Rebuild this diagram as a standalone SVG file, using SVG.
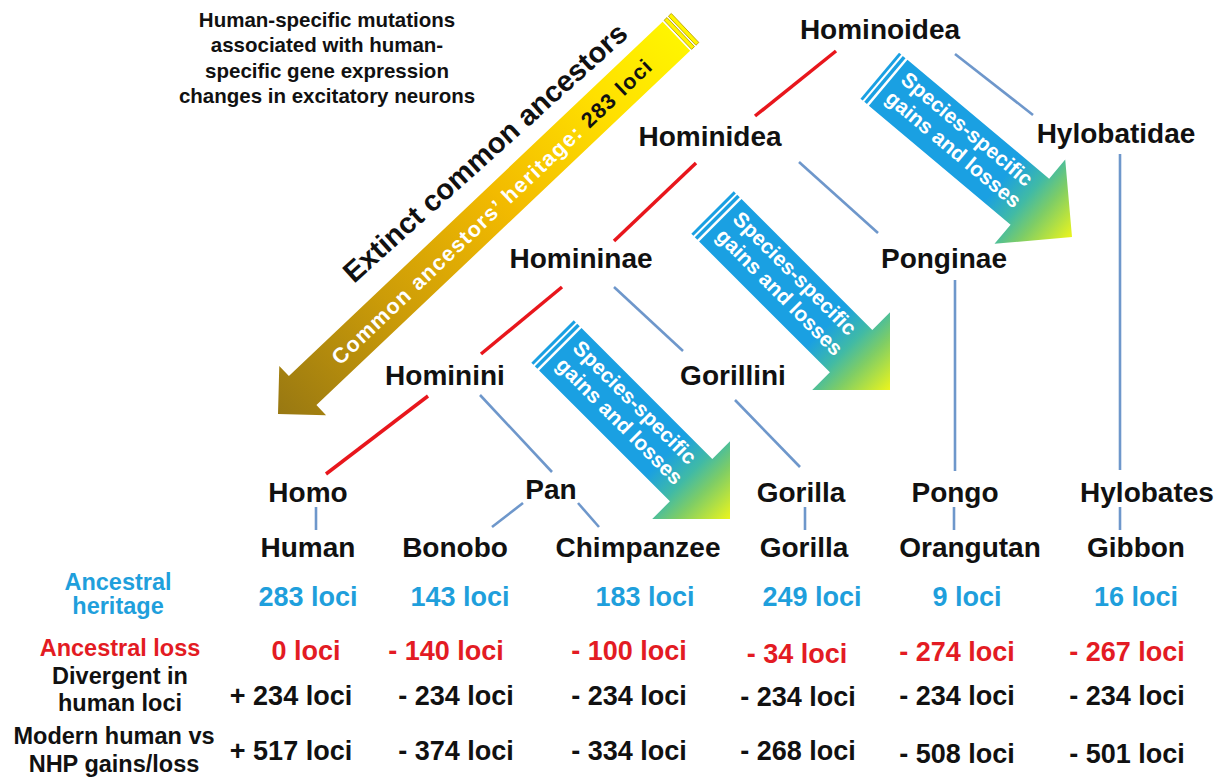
<svg xmlns="http://www.w3.org/2000/svg" width="1222" height="781" viewBox="0 0 1222 781">
<style>
  text { font-family: "Liberation Sans", Arial, sans-serif; font-weight: bold; }
  .node { font-size: 28px; fill: #111; text-anchor: middle; }
  .lab { font-size: 23.5px; text-anchor: middle; }
  .val { font-size: 27px; text-anchor: middle; }
  .blue { fill: #1f9fdc; }
  .red { fill: #e31b23; }
  .blk { fill: #111; }
  .rl { stroke: #e8161c; stroke-width: 3.5; fill: none; }
  .bl { stroke: #6e97cb; stroke-width: 2.6; fill: none; }
  .at { font-size: 21px; fill: #fff; }
</style>
<defs>
  <linearGradient id="gBlue" gradientUnits="userSpaceOnUse" x1="-251" y1="0" x2="0" y2="0">
    <stop offset="0" stop-color="#1aa0e2"/>
    <stop offset="0.64" stop-color="#1aa0e2"/>
    <stop offset="0.76" stop-color="#40baa6"/>
    <stop offset="0.85" stop-color="#7ecd66"/>
    <stop offset="1" stop-color="#ecf51c"/>
  </linearGradient>
  <linearGradient id="gGold" gradientUnits="userSpaceOnUse" x1="-561" y1="0" x2="0" y2="0">
    <stop offset="0" stop-color="#fff700"/>
    <stop offset="0.2" stop-color="#ffe000"/>
    <stop offset="0.45" stop-color="#f2ba00"/>
    <stop offset="0.72" stop-color="#cc9c08"/>
    <stop offset="1" stop-color="#987812"/>
  </linearGradient>
  <g id="blueArrow">
    <rect x="-251" y="-30" width="3" height="60" fill="url(#gBlue)"/>
    <rect x="-246" y="-30" width="3.5" height="60" fill="url(#gBlue)"/>
    <polygon points="-240,-30 -55,-30 -55,-55 0,0 -55,55 -55,30 -240,30" fill="url(#gBlue)"/>
  </g>
</defs>
<rect width="1222" height="781" fill="#fff"/>

<g id="caption">
  <text class="blk" font-size="20.5" text-anchor="middle" x="327" y="27">Human-specific mutations</text>
  <text class="blk" font-size="20.5" text-anchor="middle" x="327" y="52">associated with human-</text>
  <text class="blk" font-size="20.5" text-anchor="middle" x="327" y="78">specific gene expression</text>
  <text class="blk" font-size="20.5" text-anchor="middle" x="327" y="103">changes in excitatory neurons</text>
</g>

<g id="ancestor-arrow">
  <g transform="translate(278,414) rotate(136.52)">
    <rect x="-561" y="-20" width="4" height="40" fill="url(#gGold)" stroke="#b59a00" stroke-width="0.8"/>
    <rect x="-555" y="-20" width="4" height="40" fill="url(#gGold)" stroke="#b59a00" stroke-width="0.8"/>
    <polygon points="-549,-20 -34,-20 -34,-34 0,0 -34,34 -34,20 -549,20" fill="url(#gGold)"/>
  </g>
  <text font-size="21.5" fill="#fff" transform="translate(340,366) rotate(-43.5)" textLength="432">Common ancestors’ heritage: <tspan fill="#111">283 loci</tspan></text>
  <text font-size="29" fill="#111" transform="translate(354,284) rotate(-42)">Extinct common ancestors</text>
</g>

<g id="gain-arrow-1" transform="translate(1072,237) rotate(40)">
  <use href="#blueArrow"/>
  <text class="at" x="-232" y="-8">Species-specific</text>
  <text class="at" x="-232" y="16">gains and losses</text>
</g>
<g id="gain-arrow-2" transform="translate(890,390) rotate(45)">
  <use href="#blueArrow"/>
  <text class="at" x="-232" y="-8">Species-specific</text>
  <text class="at" x="-232" y="16">gains and losses</text>
</g>
<g id="gain-arrow-3" transform="translate(730,519) rotate(45)">
  <use href="#blueArrow"/>
  <text class="at" x="-232" y="-8">Species-specific</text>
  <text class="at" x="-232" y="16">gains and losses</text>
</g>

<g id="connectors">
  <line class="rl" x1="836" y1="51" x2="755" y2="116"/>
  <line class="rl" x1="696" y1="163" x2="614" y2="241"/>
  <line class="rl" x1="562" y1="287" x2="481" y2="354"/>
  <line class="rl" x1="428" y1="396" x2="326" y2="474"/>
  <line class="bl" x1="955" y1="54" x2="1033" y2="115"/>
  <line class="bl" x1="799" y1="162" x2="878" y2="233"/>
  <line class="bl" x1="614" y1="287" x2="683" y2="351"/>
  <line class="bl" x1="480" y1="395" x2="552" y2="472"/>
  <line class="bl" x1="735" y1="400" x2="800" y2="467"/>
  <line class="bl" x1="955" y1="280" x2="955" y2="471"/>
  <line class="bl" x1="1120" y1="154" x2="1120" y2="470"/>
  <line class="bl" x1="523" y1="503" x2="492" y2="527"/>
  <line class="bl" x1="578" y1="503" x2="599" y2="527"/>
  <line class="bl" x1="316" y1="507" x2="316" y2="530"/>
  <line class="bl" x1="805" y1="507" x2="805" y2="530"/>
  <line class="bl" x1="954" y1="507" x2="954" y2="530"/>
  <line class="bl" x1="1120" y1="507" x2="1120" y2="530"/>
</g>

<g id="n-hominoidea"><text class="node" x="880" y="39">Hominoidea</text></g>
<g id="n-hominidea"><text class="node" x="710" y="146">Hominidea</text></g>
<g id="n-hylobatidae"><text class="node" x="1116" y="143">Hylobatidae</text></g>
<g id="n-homininae"><text class="node" x="581" y="268">Homininae</text></g>
<g id="n-ponginae"><text class="node" x="944" y="268">Ponginae</text></g>
<g id="n-hominini"><text class="node" x="445" y="385">Hominini</text></g>
<g id="n-gorillini"><text class="node" x="733" y="385">Gorillini</text></g>
<g id="n-homo"><text class="node" x="308" y="502">Homo</text></g>
<g id="n-pan"><text class="node" x="551" y="499">Pan</text></g>
<g id="n-gorilla-genus"><text class="node" x="801" y="502">Gorilla</text></g>
<g id="n-pongo"><text class="node" x="955" y="502">Pongo</text></g>
<g id="n-hylobates"><text class="node" x="1147" y="502">Hylobates</text></g>
<g id="n-human"><text class="node" x="308" y="557">Human</text></g>
<g id="n-bonobo"><text class="node" x="455" y="557">Bonobo</text></g>
<g id="n-chimpanzee"><text class="node" x="638" y="557">Chimpanzee</text></g>
<g id="n-gorilla"><text class="node" x="804" y="557">Gorilla</text></g>
<g id="n-orangutan"><text class="node" x="970" y="557">Orangutan</text></g>
<g id="n-gibbon"><text class="node" x="1136" y="557">Gibbon</text></g>

<g id="table">
  <text class="lab blue" x="118" y="590">Ancestral</text>
  <text class="lab blue" x="118" y="614">heritage</text>
  <text class="val blue" x="308" y="606">283 loci</text>
  <text class="val blue" x="460" y="606">143 loci</text>
  <text class="val blue" x="645" y="606">183 loci</text>
  <text class="val blue" x="812" y="606">249 loci</text>
  <text class="val blue" x="967" y="606">9 loci</text>
  <text class="val blue" x="1136" y="606">16 loci</text>

  <text class="lab red" x="120" y="656">Ancestral loss</text>
  <text class="val red" x="306" y="660">0 loci</text>
  <text class="val red" x="446" y="660">- 140 loci</text>
  <text class="val red" x="629" y="660">- 100 loci</text>
  <text class="val red" x="797" y="663">- 34 loci</text>
  <text class="val red" x="957" y="661">- 274 loci</text>
  <text class="val red" x="1127" y="661">- 267 loci</text>

  <text class="lab blk" x="120" y="684">Divergent in</text>
  <text class="lab blk" x="120" y="711">human loci</text>
  <text class="val blk" x="291" y="705">+ 234 loci</text>
  <text class="val blk" x="456" y="705">- 234 loci</text>
  <text class="val blk" x="629" y="705">- 234 loci</text>
  <text class="val blk" x="798" y="706">- 234 loci</text>
  <text class="val blk" x="957" y="705">- 234 loci</text>
  <text class="val blk" x="1127" y="705">- 234 loci</text>

  <text class="lab blk" x="114" y="744">Modern human vs</text>
  <text class="lab blk" x="114" y="772">NHP gains/loss</text>
  <text class="val blk" x="291" y="760">+ 517 loci</text>
  <text class="val blk" x="456" y="760">- 374 loci</text>
  <text class="val blk" x="629" y="760">- 334 loci</text>
  <text class="val blk" x="798" y="760">- 268 loci</text>
  <text class="val blk" x="957" y="763">- 508 loci</text>
  <text class="val blk" x="1127" y="763">- 501 loci</text>
</g>
</svg>
